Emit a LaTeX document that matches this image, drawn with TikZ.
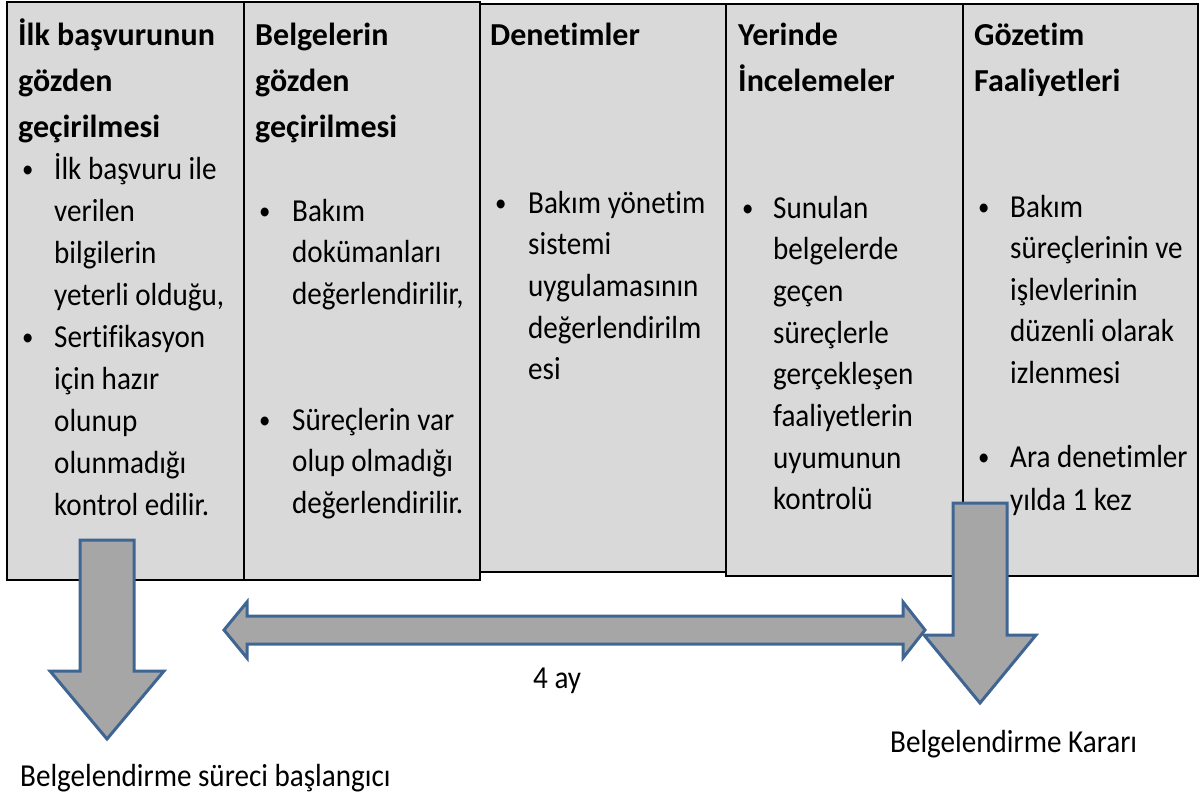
\documentclass[tikz,border=0pt]{standalone}
\usepackage{fontspec}
\setmainfont{Carlito}[FakeStretch=0.91,Ligatures=NoCommon]
\newfontfamily\headfont{Carlito}[Ligatures=NoCommon]
\definecolor{panelgray}{HTML}{D9D9D9}
\definecolor{arrowgray}{HTML}{A6A6A6}
\definecolor{arrowblue}{HTML}{3F6592}
\tikzset{
  panel/.style={draw=black, line width=1.5pt, fill=panelgray, inner sep=0pt, anchor=north west},
  head/.style={font=\headfont\fontsize{32}{46}\selectfont\bfseries, anchor=base west, inner sep=0pt},
  body/.style={font=\fontsize{32}{42}\selectfont, anchor=base west, inner sep=0pt},
  dot/.style={font=\fontsize{25}{30}\selectfont, anchor=base west, inner sep=0pt},
  blockarrow/.style={draw=arrowblue, fill=arrowgray, line width=3pt, line join=miter},
}
\begin{document}
\begin{tikzpicture}[x=1pt,y=-1pt]
    \useasboundingbox (0,0) rectangle (1200,798);
    % columns
    \node[panel, minimum width=237, minimum height=578] (ilk) at (6,1) {};
    \node[panel, minimum width=236, minimum height=578] (belge) at (243,1) {};
    \node[panel, minimum width=246, minimum height=568] (denetim) at (479,3) {};
    \node[panel, minimum width=237, minimum height=572] (yerinde) at (725,3) {};
    \node[panel, minimum width=235, minimum height=572] (gozetim) at (962,3) {};
    %
    \foreach \t [count=\i from 0] in {İlk başvurunun,gözden,geçirilmesi}
      \node[head] (ilkh\i) at (18,{45+46*\i}) {\t};
    \node[dot] (ilkb1) at (22,177) {•};
    \node[dot] (ilkb2) at (22,345) {•};
    \foreach \t [count=\i from 0] in {İlk başvuru ile,verilen,bilgilerin,{yeterli olduğu,},Sertifikasyon,için hazır,olunup,olunmadığı,kontrol edilir.}
      \node[body] (ilkt\i) at (54,{179+42*\i}) {\t};
    %
    \foreach \t [count=\i from 0] in {Belgelerin,gözden,geçirilmesi}
      \node[head] (belgeh\i) at (255,{45+46*\i}) {\t};
    \node[dot] (belgeb1) at (259,219) {•};
    \node[dot] (belgeb2) at (259,428) {•};
    \foreach \t [count=\i from 0] in {Bakım,dokümanları,{değerlendirilir,}}
      \node[body] (belgea\i) at (292,{221+41.7*\i}) {\t};
    \foreach \t [count=\i from 0] in {Süreçlerin var,olup olmadığı,değerlendirilir.}
      \node[body] (belgec\i) at (292,{430+41.7*\i}) {\t};
    %
    \node[head] (denetimh) at (490,45) {Denetimler};
    \node[dot] (denetimb) at (495,211) {•};
    \foreach \t [count=\i from 0] in {Bakım yönetim,sistemi,uygulamasının,değerlendirilm,esi}
      \node[body] (denetimt\i) at (528,{213+41.7*\i}) {\t};
    %
    \foreach \t [count=\i from 0] in {Yerinde,İncelemeler}
      \node[head] (yerindeh\i) at (738,{45+46*\i}) {\t};
    \node[dot] (yerindeb) at (742,216) {•};
    \foreach \t [count=\i from 0] in {Sunulan,belgelerde,geçen,süreçlerle,gerçekleşen,faaliyetlerin,uyumunun,kontrolü}
      \node[body] (yerindet\i) at (773,{218+41.7*\i}) {\t};
    %
    \foreach \t [count=\i from 0] in {Gözetim,Faaliyetleri}
      \node[head] (gozetimh\i) at (974,{45+46*\i}) {\t};
    \node[dot] (gozetimb1) at (978,215) {•};
    \node[dot] (gozetimb2) at (978,465) {•};
    \foreach \t [count=\i from 0] in {Bakım,süreçlerinin ve,işlevlerinin,düzenli olarak,izlenmesi}
      \node[body] (gozetima\i) at (1010,{217+41.5*\i}) {\t};
    \foreach \t [count=\i from 0] in {Ara denetimler,yılda 1 kez}
      \node[body] (gozetimc\i) at (1010,{467+43*\i}) {\t};
    %
    % arrows
    \draw[blockarrow] (80,540) -- (134,540) -- (134,671) -- (164,671) -- (107,739)
      -- (50,671) -- (80,671) -- cycle;
    \draw[blockarrow] (953,503) -- (1007,503) -- (1007,635) -- (1036,635) -- (980,703)
      -- (924,635) -- (953,635) -- cycle;
    \draw[blockarrow] (224,630) -- (247,602) -- (247,616) -- (903,616) -- (903,602)
      -- (925,630) -- (903,658) -- (903,644) -- (247,644) -- (247,658) -- cycle;
    %
    \node[body] (sure) at (533,688) {4 ay};
    \node[body] (baslangic) at (20,786) {Belgelendirme süreci başlangıcı};
    \node[body] (karar) at (890,752) {Belgelendirme Kararı};
\end{tikzpicture}
\end{document}
